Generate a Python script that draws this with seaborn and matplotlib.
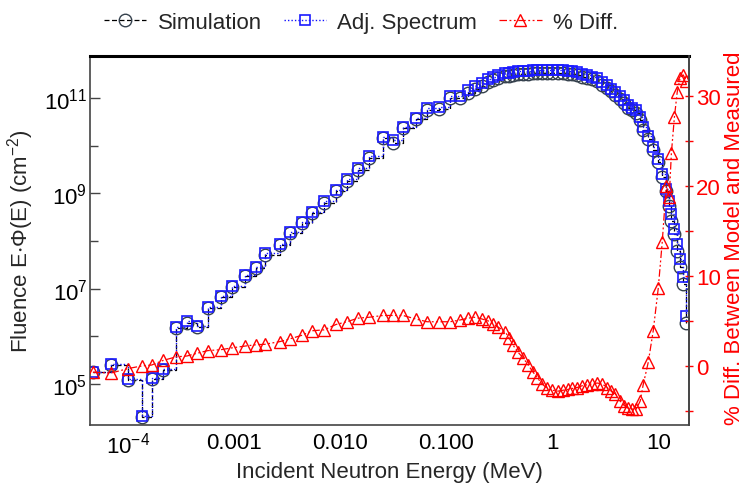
import numpy as np
import pandas as pd
import matplotlib
matplotlib.use("Agg")
import matplotlib.pyplot as plt
import seaborn as sns
from matplotlib.ticker import FixedLocator, NullFormatter, FixedFormatter

# ---------------- data ----------------
energy_mev = [4.68e-5, 6.92e-5, 1.00e-4, 1.36e-4, 1.68e-4, 2.14e-4, 2.84e-4, 3.61e-4, 4.48e-4, 5.69e-4,
              7.54e-4, 9.57e-4, 1.27e-3, 1.61e-3, 1.96e-3, 2.72e-3, 3.37e-3, 4.38e-3, 5.44e-3, 7.07e-3,
              9.17e-3, 1.16e-2, 1.48e-2, 1.88e-2, 2.55e-2, 3.16e-2, 3.93e-2, 5.21e-2, 6.62e-2, 8.59e-2,
              0.109, 0.136, 0.161, 0.188, 0.219, 0.249, 0.277, 0.310, 0.360, 0.393,
              0.428, 0.478, 0.532, 0.594, 0.662, 0.722, 0.805, 0.897, 1.00, 1.14,
              1.27, 1.42, 1.55, 1.72, 1.92, 2.14, 2.38, 2.66, 2.96, 3.30,
              3.60, 3.93, 4.38, 4.78, 5.21, 5.69, 6.20, 6.76, 7.21, 8.05,
              8.97, 10.0, 10.9, 11.9, 12.7, 13.3, 14.2, 15.1, 16.1, 17.2, 18.4]

adj_spectrum = [1.82e5, 2.63e5, 1.29e5, 2.14e4, 1.35e5, 2.09e5, 1.58e6, 2.09e6, 1.66e6, 4.17e6,
                7.08e6, 1.15e7, 1.95e7, 2.88e7, 5.50e7, 8.71e7, 1.55e8, 2.51e8, 4.07e8, 6.76e8,
                1.17e9, 2.00e9, 3.39e9, 6.03e9, 1.51e10, 1.32e10, 2.45e10, 3.80e10, 6.17e10, 6.46e10,
                1.10e11, 1.10e11, 1.48e11, 1.78e11, 2.04e11, 2.51e11, 2.75e11, 3.02e11, 3.31e11, 3.39e11,
                3.55e11, 3.63e11, 3.72e11, 3.72e11, 3.80e11, 3.89e11, 3.89e11, 3.89e11, 3.89e11, 3.89e11,
                3.80e11, 3.72e11, 3.63e11, 3.55e11, 3.24e11, 3.02e11, 2.82e11, 2.57e11, 2.19e11, 1.86e11,
                1.58e11, 1.35e11, 1.10e11, 8.91e10, 7.24e10, 6.31e10, 5.50e10, 3.98e10, 2.45e10, 1.58e10,
                9.33e9, 5.25e9, 2.57e9, 1.23e9, 6.92e8, 3.72e8, 1.78e8, 8.71e7, 4.17e7, 1.78e7, 2.69e6]

simulation = [1.75e5, 2.50e5, 1.20e5, 2.00e4, 1.28e5, 2.00e5, 1.50e6, 1.95e6, 1.55e6, 3.90e6,
              6.70e6, 1.08e7, 1.85e7, 2.70e7, 5.20e7, 8.20e7, 1.45e8, 2.35e8, 3.80e8, 6.30e8,
              1.10e9, 1.85e9, 3.15e9, 5.60e9, 1.45e10, 1.15e10, 2.30e10, 3.55e10, 5.60e10, 6.00e10,
              1.00e11, 9.80e10, 1.30e11, 1.55e11, 1.78e11, 2.19e11, 2.40e11, 2.63e11, 2.88e11, 2.95e11,
              3.09e11, 3.16e11, 3.24e11, 3.24e11, 3.31e11, 3.39e11, 3.39e11, 3.39e11, 3.39e11, 3.39e11,
              3.31e11, 3.24e11, 3.16e11, 3.09e11, 2.82e11, 2.63e11, 2.45e11, 2.24e11, 1.91e11, 1.62e11,
              1.38e11, 1.17e11, 9.55e10, 7.76e10, 6.31e10, 5.50e10, 4.79e10, 3.47e10, 2.14e10, 1.38e10,
              8.13e9, 4.57e9, 2.24e9, 1.12e9, 5.50e8, 2.63e8, 1.41e8, 6.17e7, 2.82e7, 1.26e7, 1.91e6]

pct_diff = [-0.7, -0.8, -0.3, 0.0, 0.1, 0.6, 1.0, 1.1, 1.4, 1.7,
            1.8, 2.0, 2.2, 2.35, 2.4, 2.7, 3.0, 3.4, 3.9, 4.0,
            4.6, 4.9, 5.3, 5.4, 5.6, 5.6, 5.6, 5.2, 4.9, 4.9,
            4.9, 5.1, 5.3, 5.4, 5.2, 5.0, 4.7, 4.3, 3.8, 3.1,
            2.3, 1.5, 0.9, 0.1, -0.7, -1.3, -2.0, -2.5, -2.7, -2.8,
            -2.7, -2.6, -2.5, -2.4, -2.2, -2.1, -2.0, -1.9, -2.0, -2.4,
            -2.8, -3.1, -3.9, -4.4, -4.7, -4.8, -4.8, -3.9, -2.1, 0.4,
            3.9, 8.6, 13.7, 20.0, 18.7, 23.6, 27.6, 30.4, 32.0, 32.3, 31.6]

x_ticks = [1e-4, 1e-3, 1e-2, 1e-1, 1, 10]
x_tick_labels = [r"$\mathregular{10^{-4}}$", "0.001", "0.010", "0.100", "1", "10"]
y_ticks = [1e5, 1e7, 1e9, 1e11]
y_tick_labels = [r"$\mathregular{10^{5}}$", r"$\mathregular{10^{7}}$", r"$\mathregular{10^{9}}$", r"$\mathregular{10^{11}}$"]
y_minor = [1e6, 1e8, 1e10]
r_ticks = [0, 10, 20, 30]
r_tick_labels = ["0", "10", "20", "30"]
r_minor = [-5, 5, 15, 25]

df = pd.DataFrame({"E": energy_mev, "sim": simulation, "adj": adj_spectrum, "pct": pct_diff})

# ---------------- style ----------------
sns.set_theme(style="white")
plt.rcParams["font.family"] = ["Liberation Sans", "DejaVu Sans"]
plt.rcParams["mathtext.fontset"] = "custom"
plt.rcParams["mathtext.rm"] = "Liberation Sans"
plt.rcParams["mathtext.it"] = "Liberation Sans:italic"
plt.rcParams["mathtext.bf"] = "Liberation Sans:bold"

FS = 16
fig = plt.figure(figsize=(7.46, 4.89), dpi=100)
ax = fig.add_axes([90 / 746, 1 - 426 / 489, 599 / 746, 369 / 489])

sns.lineplot(data=df, x="E", y="sim", ax=ax, color="black", linestyle=(0, (4, 2)), linewidth=0.9,
             drawstyle="steps-post", marker="o", markersize=9, markerfacecolor="none",
             markeredgecolor="#35414d", markeredgewidth=1.0, label="Simulation", legend=False)
sns.lineplot(data=df, x="E", y="adj", ax=ax, color="#1010ff", linestyle=(0, (1, 1.5)), linewidth=1.0,
             drawstyle="steps-post", marker="s", markersize=7, markerfacecolor="none",
             markeredgecolor="#1a1aff", markeredgewidth=1.2, label="Adj. Spectrum", legend=False)
ax.set_xscale("log")
ax.set_yscale("log")
ax.set_xlim(4.4e-5, 19.5)
ax.set_ylim(1.38e4, 7.6e11)

ax.xaxis.set_major_locator(FixedLocator(x_ticks))
ax.xaxis.set_major_formatter(FixedFormatter(x_tick_labels))
minor_x = [m * 10.0 ** d for d in range(-5, 2) for m in range(2, 10)]
ax.xaxis.set_minor_locator(FixedLocator(minor_x))
ax.xaxis.set_minor_formatter(NullFormatter())
ax.yaxis.set_major_locator(FixedLocator(y_ticks))
ax.yaxis.set_major_formatter(FixedFormatter(y_tick_labels))
ax.yaxis.set_minor_locator(FixedLocator(y_minor))
ax.yaxis.set_minor_formatter(NullFormatter())

ax.tick_params(axis="both", which="both", direction="in", color="#444444", labelcolor="black",
               labelsize=FS, width=1.0)
ax.tick_params(axis="x", which="major", length=7, pad=5)
ax.tick_params(axis="x", which="minor", length=4)
ax.tick_params(axis="y", which="major", length=7, pad=2)
ax.tick_params(axis="y", which="minor", length=6)

ax.set_xlabel("Incident Neutron Energy (MeV)", fontsize=FS)
ax.set_ylabel(r"Fluence E$\mathregular{\cdot}$Φ(E) (cm$\mathregular{^{-2}}$)", fontsize=FS)
ax.yaxis.set_label_coords(-0.09, 0.50)
ax.xaxis.set_label_coords(0.5, -0.098)

for s in ["left", "bottom", "right"]:
    ax.spines[s].set_color("#444444")
    ax.spines[s].set_linewidth(1.2)
ax.spines["top"].set_color("black")
ax.spines["top"].set_linewidth(2.2)

ax2 = ax.twinx()
sns.lineplot(data=df, x="E", y="pct", ax=ax2, color="red", linestyle=(0, (6, 2, 1.5, 2, 1.5, 2)),
             linewidth=0.9, marker="^", markersize=8.5, markerfacecolor="none",
             markeredgecolor="red", markeredgewidth=1.0, label="% Diff.", legend=False)
ax2.set_ylim(-6.56, 34.4)
ax2.yaxis.set_major_locator(FixedLocator(r_ticks))
ax2.yaxis.set_major_formatter(FixedFormatter(r_tick_labels))
ax2.yaxis.set_minor_locator(FixedLocator(r_minor))
ax2.yaxis.set_minor_formatter(NullFormatter())
ax2.tick_params(axis="y", which="both", direction="inout", color="red", labelcolor="red",
                labelsize=FS, length=6, width=1.0, pad=2)
ax2.set_ylabel("% Diff. Between Model and Measured", fontsize=16, color="red")
ax2.yaxis.set_label_coords(1.058, 0.51)
for s in ["left", "bottom", "top"]:
    ax2.spines[s].set_visible(False)
ax2.spines["right"].set_color("#444444")
ax2.spines["right"].set_linewidth(1.2)
ax2.grid(False)
ax.grid(False)

h1, l1 = ax.get_legend_handles_labels()
h2, l2 = ax2.get_legend_handles_labels()
fig.legend(h1 + h2, l1 + l2, loc="center", bbox_to_anchor=(0.484, 0.952), ncol=3, frameon=False,
           fontsize=FS, handlelength=1.9, handletextpad=0.5, columnspacing=1.0, numpoints=1)

fig.savefig("out.png", dpi=100)
